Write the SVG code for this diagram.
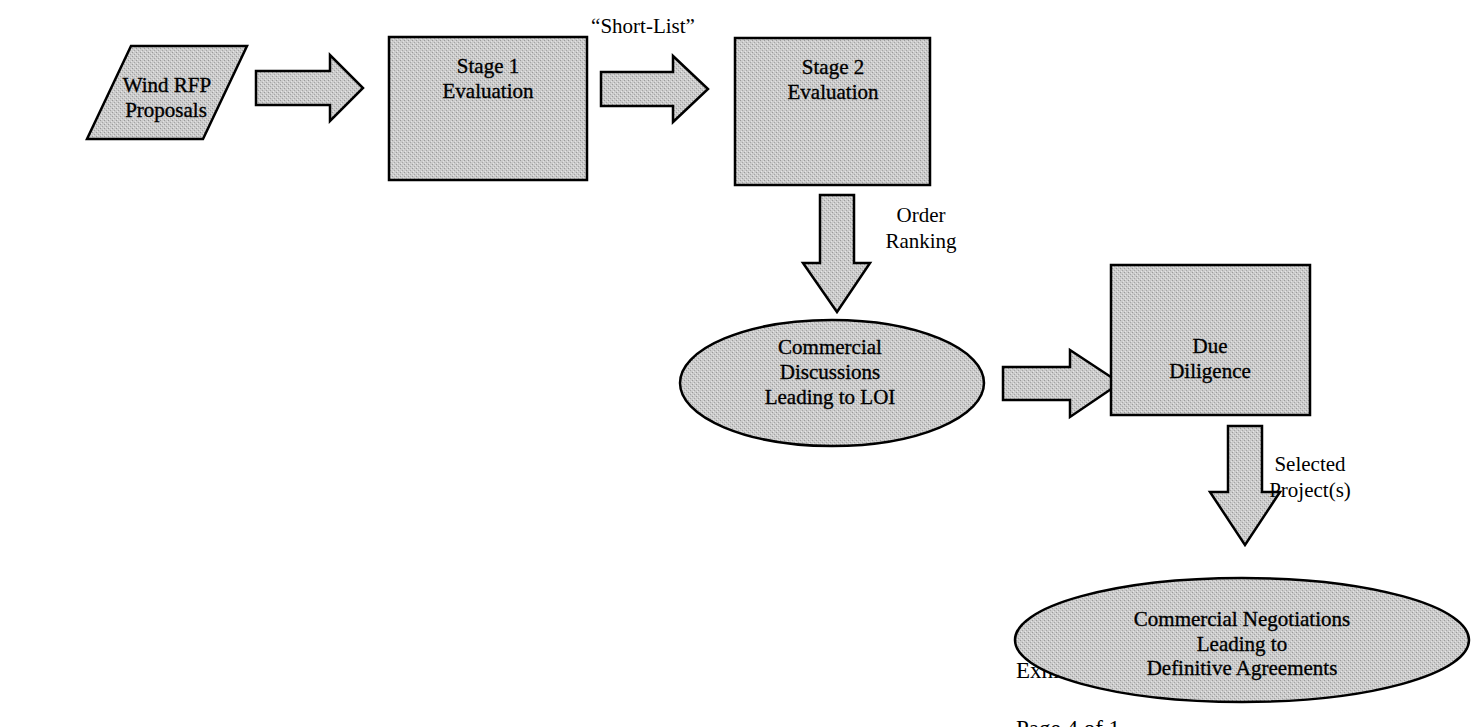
<svg xmlns="http://www.w3.org/2000/svg" width="1474" height="727" viewBox="0 0 1474 727">
<defs>
<pattern id="dither" width="4" height="4" patternUnits="userSpaceOnUse">
<rect width="4" height="4" fill="#cbcbcb"/>
<rect x="0" y="0" width="1" height="1" fill="#9a9a9a"/>
<rect x="2" y="2" width="1" height="1" fill="#a5a5a5"/>
<rect x="1" y="3" width="1" height="1" fill="#e6e6e6"/>
<rect x="3" y="1" width="1" height="1" fill="#e2e2e2"/>
</pattern>
</defs>
<style>
.shape{fill:url(#dither);stroke:#000;stroke-width:2.5;}
.arrow{fill:url(#dither);stroke:#000;stroke-width:2.5;stroke-linejoin:miter;}
.t{font-family:"Liberation Serif","Times New Roman",serif;font-size:21px;fill:#000;stroke:#000;stroke-width:0.35;text-anchor:middle;}
.lbl{font-family:"Liberation Serif","Times New Roman",serif;font-size:21px;fill:#000;text-anchor:middle;}
.bg{font-family:"Liberation Serif","Times New Roman",serif;font-size:23px;fill:#000;}
</style>
<rect width="1474" height="727" fill="#fff"/>

<g id="footer">
<text class="bg" x="1016" y="678">Exhibit</text>
<text class="bg" x="1016" y="736">Page 4 of 1</text>
</g>

<g id="connectors">
<polygon class="arrow" points="256,71 330,71 330,55 363,88 330,121 330,105 256,105"/>
<polygon class="arrow" points="601,72 673,72 673,56 708,89 673,122 673,106 601,106"/>
<polygon class="arrow" points="820,195 854,195 854,263 870,263 837,312 803,263 820,263"/>
<polygon class="arrow" points="1003,367 1070,367 1070,350 1120,383 1070,417 1070,400 1003,400"/>
<polygon class="arrow" points="1228,426 1262,426 1262,492 1280,492 1245,545 1210,492 1228,492"/>
<text class="lbl" x="643" y="33">“Short-List”</text>
<text class="lbl" x="921" y="222">Order</text>
<text class="lbl" x="921" y="248">Ranking</text>
<text class="lbl" x="1310" y="471">Selected</text>
<text class="lbl" x="1310" y="497">Project(s)</text>
</g>

<g id="node-wind-rfp">
<polygon class="shape" points="131,46 247,46 203,139 87,139"/>
<text class="t" x="167" y="92">Wind RFP</text>
<text class="t" x="166" y="117">Proposals</text>
</g>

<g id="node-stage1">
<rect class="shape" x="389" y="37" width="198" height="143"/>
<text class="t" x="488" y="73">Stage 1</text>
<text class="t" x="488" y="98">Evaluation</text>
</g>

<g id="node-stage2">
<rect class="shape" x="735" y="38" width="195" height="147"/>
<text class="t" x="833" y="74">Stage 2</text>
<text class="t" x="833" y="99">Evaluation</text>
</g>

<g id="node-commercial-discussions">
<ellipse class="shape" cx="832" cy="383" rx="152" ry="63"/>
<text class="t" x="830" y="354">Commercial</text>
<text class="t" x="830" y="379">Discussions</text>
<text class="t" x="830" y="404">Leading to LOI</text>
</g>

<g id="node-due-diligence">
<rect class="shape" x="1111" y="265" width="199" height="150"/>
<text class="t" x="1210" y="353">Due</text>
<text class="t" x="1210" y="378">Diligence</text>
</g>

<g id="node-commercial-negotiations">
<ellipse class="shape" cx="1242" cy="640" rx="227" ry="62"/>
<text class="t" x="1242" y="626">Commercial Negotiations</text>
<text class="t" x="1242" y="651">Leading to</text>
<text class="t" x="1242" y="675">Definitive Agreements</text>
</g>
</svg>
